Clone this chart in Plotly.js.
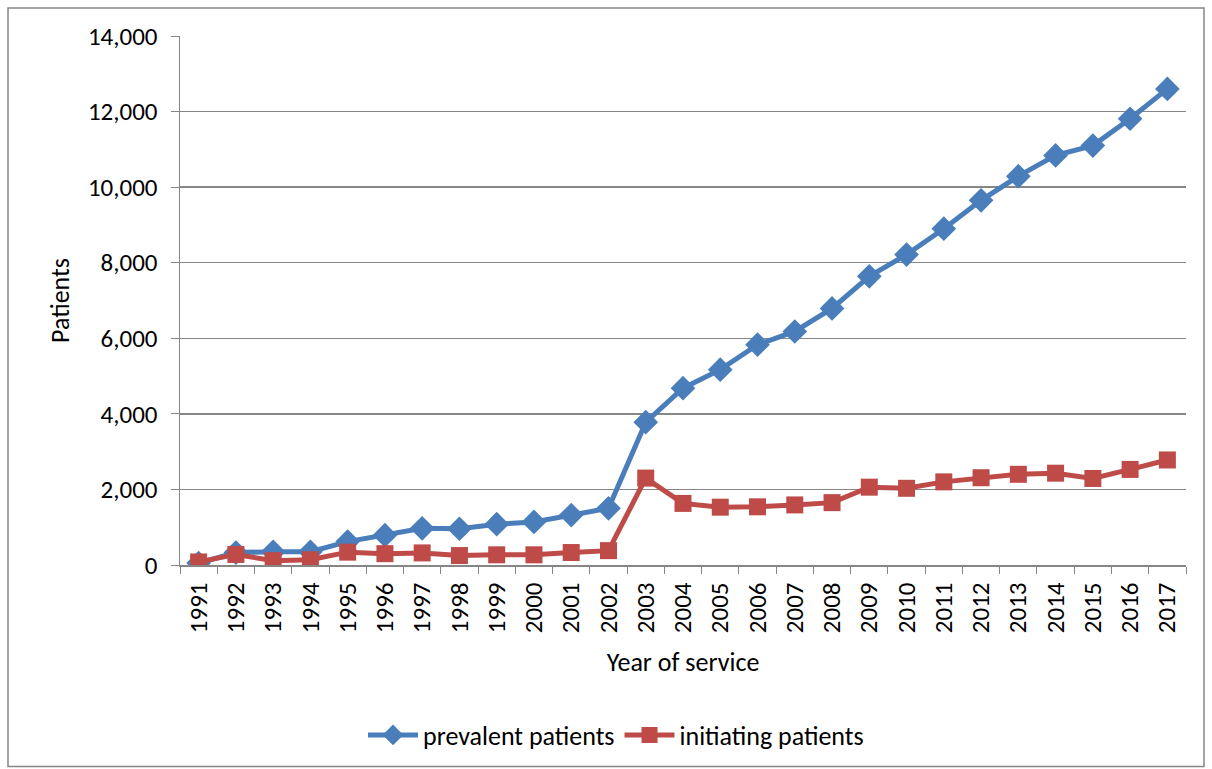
<!DOCTYPE html>
<html>
<head>
<meta charset="utf-8">
<script src="https://cdn.plot.ly/plotly-3.0.1.min.js"></script>
<style>html,body{margin:0;padding:0;background:#fff;}#chart{width:1212px;height:769px;}</style>
</head>
<body>
<div id="chart"></div>
<script>
const years = ["1991","1992","1993","1994","1995","1996","1997","1998","1999","2000","2001","2002","2003","2004","2005","2006","2007","2008","2009","2010","2011","2012","2013","2014","2015","2016","2017"];
const prevalentPatients = [50,330,350,350,620,790,970,960,1080,1140,1320,1500,3780,4680,5170,5830,6180,6790,7640,8215,8900,9650,10290,10840,11100,11810,12600];
const initiatingPatients = [80,280,115,140,340,300,320,250,270,270,330,380,2300,1630,1530,1540,1590,1650,2060,2030,2200,2310,2400,2430,2290,2530,2780];
const yTickVals = [0,2000,4000,6000,8000,10000,12000,14000];
const yTickText = ["0","2,000","4,000","6,000","8,000","10,000","12,000","14,000"];

const fontFam = "Carlito, Lato, 'Noto Sans', sans-serif";
const traces = [
  {x: years, y: prevalentPatients, name: "prevalent patients", type: "scatter", mode: "lines+markers",
   line: {color: "#4A7EBB", width: 5}, marker: {symbol: "diamond", size: 19, color: "#4A7EBB"}},
  {x: years, y: initiatingPatients, name: "initiating patients", type: "scatter", mode: "lines+markers",
   line: {color: "#BE4B48", width: 5}, marker: {symbol: "square", size: 17, color: "#BE4B48"}}
];
const layout = {
  width: 1212, height: 769,
  margin: {l: 180, r: 26, t: 36, b: 203},
  paper_bgcolor: "#fff", plot_bgcolor: "#fff",
  font: {family: fontFam, size: 26, color: "#000"},
  showlegend: true,
  legend: {orientation: "h", x: 0.4334, xanchor: "center", y: -0.319, yanchor: "middle",
           font: {size: 26}, itemwidth: 50, tracegroupgap: 0},
  xaxis: {type: "category", range: [-0.5, 26.5], tickangle: -90, showgrid: false, showline: true, linecolor: "#868686", linewidth: 1.5,
          ticks: "outside", ticklen: 7, tickcolor: "#868686", tickson: "boundaries", ticklabelstandoff: 6,
          tickfont: {size: 25}, automargin: false, fixedrange: true,
          title: {text: "Year of service", font: {size: 26}, standoff: 20}},
  yaxis: {range: [0, 14000], tickvals: yTickVals, ticktext: yTickText, showgrid: true, gridcolor: "#868686", gridwidth: 1.5,
          showline: true, linecolor: "#868686", linewidth: 1.5, ticks: "outside", ticklen: 8, tickcolor: "#868686",
          ticklabelstandoff: 8, zeroline: false, tickfont: {size: 25}, automargin: false, fixedrange: true,
          title: {text: "Patients", font: {size: 26}, standoff: 11}},
  shapes: [{type: "rect", xref: "paper", yref: "paper", x0: (8-180)/1006, x1: (1204-180)/1006,
            y0: (566-768)/530, y1: 1 + (36-8)/530, line: {color: "#868686", width: 1.5}, fillcolor: "rgba(0,0,0,0)", layer: "below"}]
};
Plotly.newPlot("chart", traces, layout, {displayModeBar: false, staticPlot: true});
</script>
</body>
</html>
